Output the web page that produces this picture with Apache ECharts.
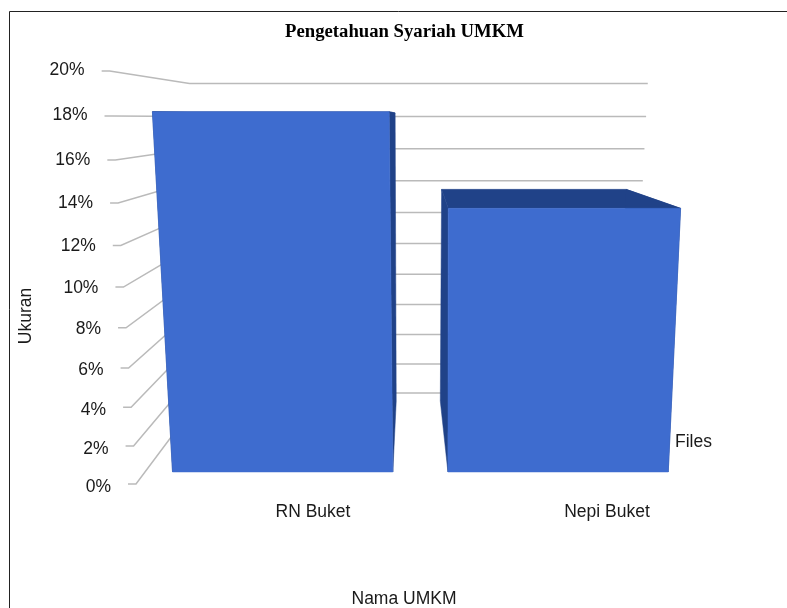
<!DOCTYPE html>
<html><head><meta charset="utf-8">
<script src="https://cdn.jsdelivr.net/npm/echarts@6/dist/echarts.min.js"></script>
<style>html,body{margin:0;padding:0;background:#fff}#c{width:787px;height:608px}</style>
</head><body><div id="c"></div>
<script>
const categories = ['RN Buket', 'Nepi Buket'];
const values = [18.2, 13.6];
const ticks = [0, 2, 4, 6, 8, 10, 12, 14, 16, 18, 20];
const seriesName = 'Files';

const FONT = '"Liberation Sans", Arial, sans-serif';
const FRONT = '#3e6ccf', DARK = '#204288', GRIDC = '#bababa', TEXT = '#1a1a1a';
const Z_FRONT = 0.1025, Z_BACK = 0.885, HALF_BAR = 0.2;

// perspective: X across (0..1), t up (0..1), Z into the page (0..1)
function project(X, t, Z) {
  const w = 1 - 0.088 * t + 0.3307 * Z;
  return [(136 - 36 * t + 135.5 * Z + (569.5 - 6 * t * (1 - Z)) * X) / w,
          (484 - 419.2 * t + 38.97 * Z) / w];
}
function tOf(params, api, v) {
  const r = params.coordSys;
  return (r.y + r.height - api.coord([0, v])[1]) / r.height;
}
function renderGrid(params, api) {
  const v = api.value(0), t = tOf(params, api, v);
  const f = project(0, t, 0), b = project(0, t, 1), e = project(1, t, 1);
  const lineStyle = { stroke: GRIDC, lineWidth: 1.5, fill: null };
  return { type: 'group', silent: true, children: [
    { type: 'polyline', shape: { points: [[f[0] - 8, f[1]], f, b, e] }, style: lineStyle },
    { type: 'text', style: { text: v + '%', x: f[0] - 25, y: f[1] + 3.5 - 4.5 * t, align: 'right', verticalAlign: 'middle',
        font: '17.5px ' + FONT, fill: TEXT } }
  ]};
}
function renderBar(params, api) {
  const r = params.coordSys;
  const cx = (api.coord([api.value(0), 0])[0] - r.x) / r.width;
  const t = tOf(params, api, api.value(1));
  const x0 = cx - HALF_BAR, x1 = cx + HALF_BAR;
  const face = (pts, fill) => ({ type: 'polygon', shape: { points: pts }, style: { fill: fill, stroke: fill, lineWidth: 0.5 } });
  const P = project;
  return { type: 'group', children: [
    face([P(x0, t, Z_BACK), P(x1, t, Z_BACK), P(x1, t, Z_FRONT), P(x0, t, Z_FRONT)], DARK),
    face([P(x1, t, Z_FRONT), P(x1, t, Z_BACK), P(x1, 0, Z_BACK), P(x1, 0, Z_FRONT)], DARK),
    face([P(x0, t, Z_FRONT), P(x0, t, Z_BACK), P(x0, 0, Z_BACK), P(x0, 0, Z_FRONT)], DARK),
    face([P(x0, t, Z_FRONT), P(x1, t, Z_FRONT), P(x1, 0, Z_FRONT), P(x0, 0, Z_FRONT)], FRONT)
  ]};
}

const chart = echarts.init(document.getElementById('c'), null, { renderer: 'canvas' });
chart.setOption({
  animation: false,
  backgroundColor: '#fff',
  title: { text: 'Pengetahuan Syariah UMKM', left: 399.5, top: 18, textAlign: 'center',
    textStyle: { fontFamily: '"Liberation Serif", serif', fontSize: 18.7, fontWeight: 'bold', color: '#000' } },
  legend: { data: [{ name: seriesName, icon: 'none' }], left: 665, top: 428, itemWidth: 0, itemHeight: 0,
    selectedMode: false, textStyle: { fontFamily: FONT, fontSize: 17.5, color: TEXT } },
  grid: { left: 166, right: 33, top: 71, bottom: 124, outerBoundsMode: 'none' },
  xAxis: { type: 'category', data: categories, axisLine: { show: false }, axisTick: { show: false },
    axisLabel: { margin: 19, fontFamily: FONT, fontSize: 17.5, color: TEXT },
    name: 'Nama UMKM', nameLocation: 'middle', nameGap: 106,
    nameTextStyle: { fontFamily: FONT, fontSize: 17.5, color: TEXT, padding: [0, 112, 0, 0] } },
  yAxis: { type: 'value', min: 0, max: 20, interval: 2, axisLine: { show: false }, axisTick: { show: false },
    axisLabel: { show: false }, splitLine: { show: false },
    name: 'Ukuran', nameLocation: 'middle', nameGap: 131,
    nameTextStyle: { fontFamily: FONT, fontSize: 17.5, color: TEXT, padding: [0, 77, 0, 0] } },
  series: [
    { type: 'custom', name: 'grid', renderItem: renderGrid, data: ticks.map(v => [v]), encode: { y: 0 }, z: 1, silent: true },
    { type: 'custom', name: seriesName, renderItem: renderBar, itemStyle: { color: FRONT },
      data: categories.map((c, i) => [i, values[i]]), encode: { x: 0, y: 1 }, z: 2 }
  ],
  graphic: [
    { type: 'polyline', silent: true, shape: { points: [[9.5, 608], [9.5, 11.5], [787, 11.5]] },
      style: { stroke: '#222', lineWidth: 1, fill: null } }
  ]
});
</script></body></html>
